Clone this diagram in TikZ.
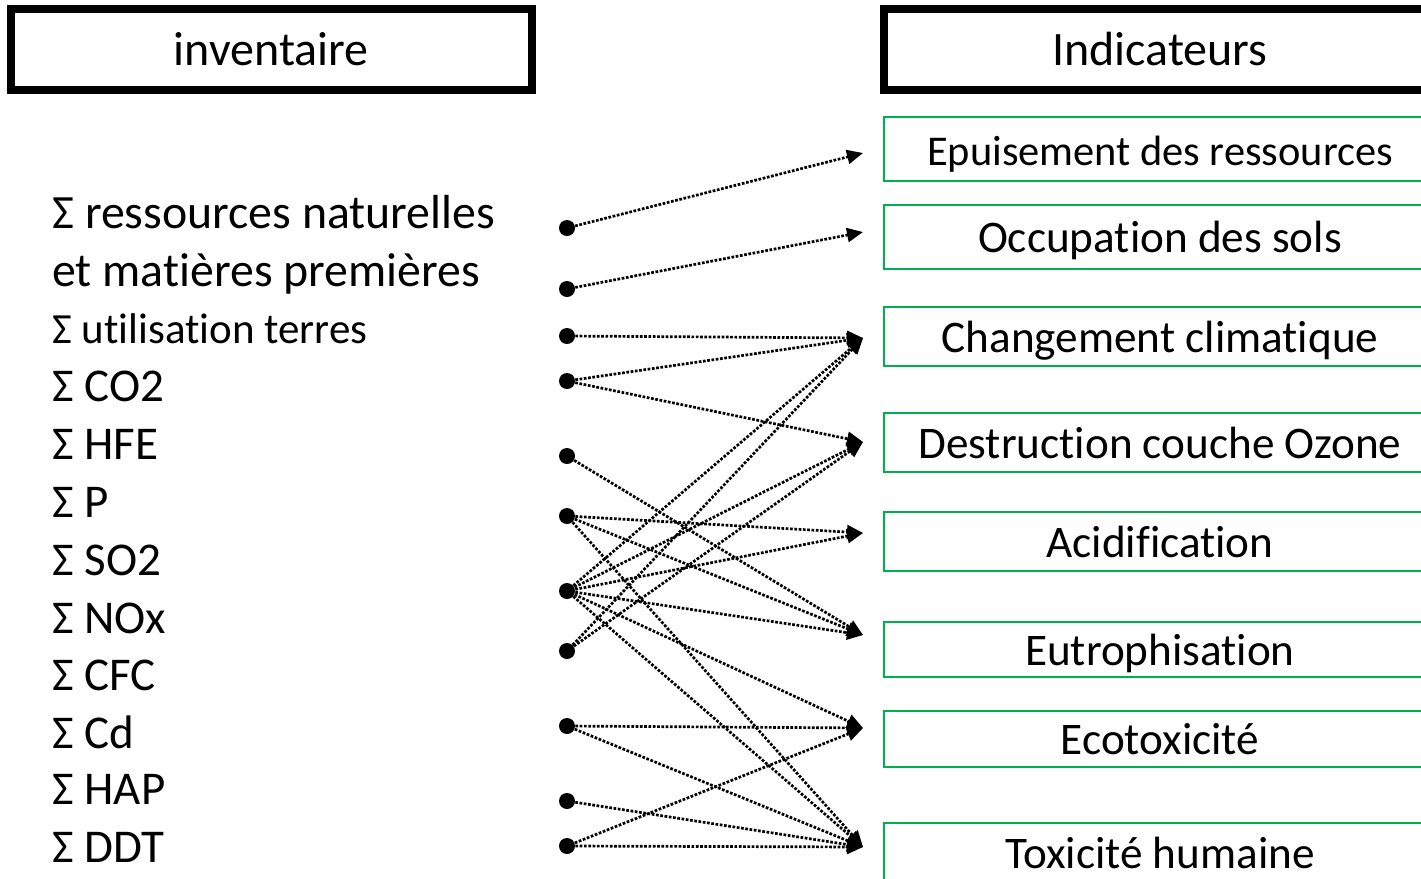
\documentclass[tikz,border=0pt]{standalone}
\usepackage{fontspec}
\setmainfont[Ligatures=NoCommon]{Carlito}
\usetikzlibrary{arrows.meta}
\definecolor{boxgreen}{HTML}{00B050}
\begin{document}
\begin{tikzpicture}[x=0.5pt,y=-0.5pt,
  headbox/.style={draw=black, line width=4pt, inner sep=0pt,
    minimum height=40.5pt, font=\fontsize{24}{28}\selectfont,
    text height=16.5pt, text depth=1pt},
  impact/.style={draw=boxgreen, line width=0.8pt, inner sep=0pt,
    minimum width=276pt, font=\fontsize{22.6}{26}\selectfont,
    text height=16.5pt, text depth=1pt},
  flux/.style={anchor=base west, inner sep=0pt, align=left},
  dot/.style={circle, fill=black, inner sep=0pt, minimum size=8pt},
  link/.style={line width=1.35pt, dash pattern=on 1.35pt off 0.8pt,
    -{Triangle[length=8pt,width=7pt]}}
]
\useasboundingbox (0,0) rectangle (1421,879);
\clip (0,0) rectangle (1421,879);

% column headers
\node[headbox, minimum width=260.75pt] (inv) at (271.25,49.5) {inventaire};
\node[headbox, minimum width=276pt] (ind) at (1160,49.5) {Indicateurs};

% impact categories
\node[impact, minimum height=32pt, font=\fontsize{21.2}{25}\selectfont,
      text height=17pt, text depth=1pt]
                                     (e1) at (1160,149)   {Epuisement des ressources};
\node[impact, minimum height=32pt]   (e2) at (1160,237)   {Occupation des sols};
\node[impact, minimum height=29.5pt] (e3) at (1160,336.5) {Changement climatique};
\node[impact, minimum height=29.5pt] (e4) at (1160,442.5) {Destruction couche Ozone};
\node[impact, minimum height=29.5pt] (e5) at (1160,541.5) {Acidification};
\node[impact, minimum height=27.5pt] (e6) at (1160,649.5) {Eutrophisation};
\node[impact, minimum height=28pt]   (e7) at (1160,739)   {Ecotoxicité};
\node[impact, minimum height=29.5pt] (e8) at (1160,852.5) {Toxicité humaine};

% inventory flows (the first one runs over two lines; base = last line)
\node[flux, font=\fontsize{23.9}{29}\selectfont] (f1) at (52,286)
  {Σ ressources naturelles\\et matières premières};
\node[flux, font=\fontsize{21.5}{25}\selectfont] (f2) at (52,343) {Σ utilisation terres};
\begin{scope}[every node/.style={flux, font=\fontsize{23.5}{27}\selectfont}]
\node (f3)  at (52,401) {Σ CO2};
\node (f4)  at (52,459) {Σ HFE};
\node (f5)  at (52,517) {Σ P};
\node (f6)  at (52,575) {Σ SO2};
\node (f7)  at (52,633) {Σ NOx};
\node (f8)  at (52,690) {Σ CFC};
\node (f9)  at (52,748) {Σ Cd};
\node (f10) at (52,804) {Σ HAP};
\node (f11) at (52,862) {Σ DDT};
\end{scope}

% arrow targets in front of the categories
\coordinate (t1) at (863,153);
\coordinate (t2) at (863,232);
\coordinate (t3) at (863,338);
\coordinate (t4) at (863,442);
\coordinate (t5) at (863,533);
\coordinate (t6) at (863,635);
\coordinate (t7) at (863,728);
\coordinate (t8) at (863,847);

% source points
\node[dot] (d1)  at (567,228) {};
\node[dot] (d2)  at (567,289) {};
\node[dot] (d3)  at (567,336) {};
\node[dot] (d4)  at (567,381) {};
\node[dot] (d5)  at (567,456) {};
\node[dot] (d6)  at (567,516) {};
\node[dot] (d7)  at (567,591) {};
\node[dot] (d8)  at (567,651) {};
\node[dot] (d9)  at (567,726) {};
\node[dot] (d10) at (567,801) {};
\node[dot] (d11) at (567,846) {};

% flow -> indicator links
\foreach \s/\t in {d1/t1, d2/t2, d3/t3, d4/t3, d4/t4, d5/t6,
                   d6/t5, d6/t6, d6/t8,
                   d7/t3, d7/t4, d7/t5, d7/t6, d7/t7, d7/t8,
                   d8/t3, d8/t4, d9/t7, d9/t8, d10/t8, d11/t7, d11/t8}
  \draw[link] (\s) -- (\t);
\end{tikzpicture}
\end{document}
